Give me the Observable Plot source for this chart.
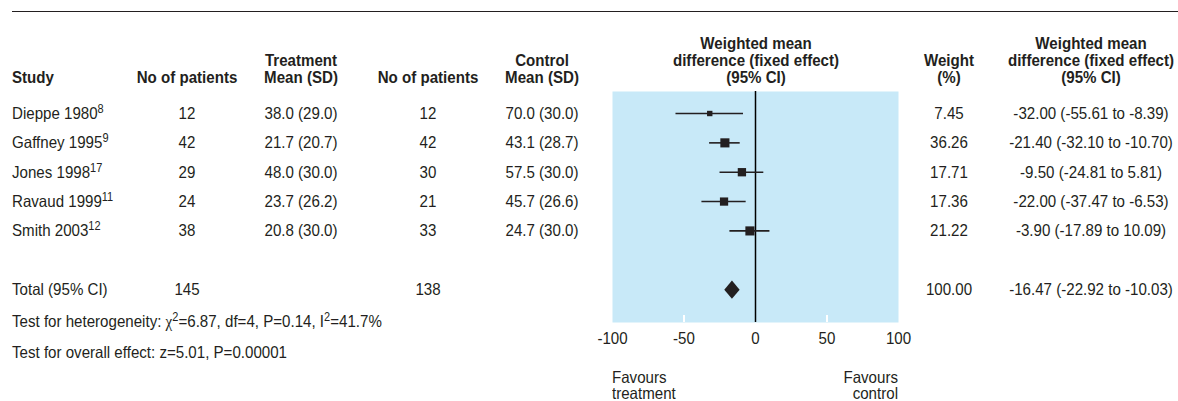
<!DOCTYPE html>
<html><head><meta charset="utf-8">
<script src="https://cdn.jsdelivr.net/npm/d3@7"></script>
<script src="https://cdn.jsdelivr.net/npm/@observablehq/plot@0.6"></script>
<style>
html,body{margin:0;padding:0;background:#fff;}
#fig{position:relative;width:1178px;height:401px;overflow:hidden;font-family:"Liberation Sans",Arial,sans-serif;font-size:16.5px;color:#231f20;}
.t{position:absolute;white-space:nowrap;line-height:17px;}
.h{font-weight:bold;text-align:center;}
.t sup{font-size:12px;line-height:0;vertical-align:0.45em;}
.chi{font-family:"Liberation Serif","DejaVu Serif",serif;}
#rule{position:absolute;left:12px;top:11px;width:1166px;height:0;border-top:1.5px solid #231f20;}
#plot{position:absolute;left:580px;top:80px;}
</style></head>
<body><div id="fig"><div id="rule"></div><div id="plot"></div></div>
<script>
// ---- data ----
const studies = ["Dieppe 1980", "Gaffney 1995", "Jones 1998", "Ravaud 1999", "Smith 2003"];
const refs = ["8", "9", "17", "11", "12"];
const nTreat = [12, 42, 29, 24, 38];
const meanTreat = [38.0, 21.7, 48.0, 23.7, 20.8];
const sdTreat = [29.0, 20.7, 30.0, 26.2, 30.0];
const nControl = [12, 42, 30, 21, 33];
const meanControl = [70.0, 43.1, 57.5, 45.7, 24.7];
const sdControl = [30.0, 28.7, 30.0, 26.6, 30.0];
const weights = [7.45, 36.26, 17.71, 17.36, 21.22];
const wmd = [-32.00, -21.40, -9.50, -22.00, -3.90];
const ciLow = [-55.61, -32.10, -24.81, -37.47, -17.89];
const ciHigh = [-8.39, -10.70, 5.81, -6.53, 10.09];
const totalLabel = "Total (95% CI)";
const totalNTreat = 145;
const totalNControl = 138;
const totalWeight = 100.00;
const totalWmd = -16.47;
const totalLow = -22.92;
const totalHigh = -10.03;
const xTicks = [-100, -50, 0, 50, 100];
const heteroChi2 = "6.87", heteroDf = "4", heteroP = "0.14", heteroI2 = "41.7";
const overallZ = "5.01", overallP = "0.00001";

// ---- table built from the arrays ----
const rows = studies.map((s, i) => ({
  study: s, ref: refs[i], row: i,
  nT: nTreat[i], mT: meanTreat[i], sT: sdTreat[i],
  nC: nControl[i], mC: meanControl[i], sC: sdControl[i],
  weight: weights[i], wmd: wmd[i], lo: ciLow[i], hi: ciHigh[i]
}));
const totalRow = {row: studies.length + 1, wmd: totalWmd, lo: totalLow, hi: totalHigh};

const ink = "#231f20";
const FONT = '"Liberation Sans",Arial,sans-serif';
const SQUEEZE = 0.915; // condensed look

// forest-plot diamond (taller than wide)
const diamond = {
  draw(ctx, size) {
    const h = Math.sqrt(size) / 2, w = h * 0.85;
    ctx.moveTo(0, -h); ctx.lineTo(w, 0); ctx.lineTo(0, h); ctx.lineTo(-w, 0); ctx.closePath();
  }
};

const chart = Plot.plot({
  width: 350, height: 272,
  marginLeft: 32, marginRight: 32, marginTop: 11, marginBottom: 30,
  style: {fontFamily: FONT, fontSize: "16.5px", color: ink, background: "transparent", overflow: "visible"},
  x: {domain: [-100, 100]},
  y: {domain: [7.12, -0.75], axis: null},
  r: {type: "sqrt", domain: [0, 21.22], range: [0, 5.14], clamp: true},
  marks: [
    Plot.frame({fill: "#c8e9f8", stroke: "none"}),
    Plot.axisX({ticks: [-50, 50], tickSize: -7, stroke: "white", strokeWidth: 2, tickFormat: () => ""}),
    Plot.axisX({ticks: xTicks, tickSize: 0, tickPadding: 10, tickFormat: d => String(d), fill: ink}),
    Plot.ruleX([0], {stroke: "#000", strokeWidth: 1.5}),
    Plot.ruleY(rows, {x1: "lo", x2: "hi", y: "row", stroke: ink, strokeWidth: 1.6}),
    Plot.dot(rows, {x: "wmd", y: "row", r: "weight", symbol: "square", fill: ink, stroke: "none"}),
    Plot.dot([totalRow], {x: "wmd", y: "row", r: 10.2, symbol: diamond, fill: ink, stroke: "none"})
  ]
});
// condense the tick labels like the rest of the text
chart.querySelectorAll("text").forEach(t => {
  const tr = t.getAttribute("transform") || "";
  t.setAttribute("transform", `${tr} scale(${SQUEEZE},1)`);
});
document.getElementById("plot").appendChild(chart);

// ---- text table aligned with the plot's y scale ----
const fig = document.getElementById("fig");
const PX = 580, PY = 80;
const yS = chart.scale("y"), xS = chart.scale("x");
const rowY = r => PY + yS.apply(r);

const col = {study: 12, nT: 187, mT: 301, nC: 428, mC: 542, forest: 756, w: 949, ci: 1091};

function put(html, x, y, align = "center", cls = "", vshift = "-50%") {
  const el = document.createElement("div");
  el.className = "t " + cls;
  el.innerHTML = html;
  el.style.left = x + "px";
  el.style.top = y + "px";
  const tx = align === "center" ? "-50%" : align === "right" ? "-100%" : "0";
  el.style.transformOrigin = (align === "center" ? "center" : align) + " center";
  el.style.transform = `translate(${tx}, ${vshift}) scaleX(${SQUEEZE})`;
  if (align === "right") el.style.textAlign = "right";
  fig.appendChild(el);
  return el;
}

// headers (last line centred at y=77)
const hb = 77 + 8.5;
put("Study", col.study, hb, "left", "h", "-100%");
put("No of patients", col.nT, hb, "center", "h", "-100%");
put("Treatment<br>Mean (SD)", col.mT, hb, "center", "h", "-100%");
put("No of patients", col.nC, hb, "center", "h", "-100%");
put("Control<br>Mean (SD)", col.mC, hb, "center", "h", "-100%");
put("Weighted mean<br>difference (fixed effect)<br>(95% CI)", col.forest, hb, "center", "h", "-100%");
put("Weight<br>(%)", col.w, hb, "center", "h", "-100%");
put("Weighted mean<br>difference (fixed effect)<br>(95% CI)", col.ci, hb, "center", "h", "-100%");

const f1 = v => v.toFixed(1), f2 = v => v.toFixed(2);
rows.forEach(d => {
  const y = rowY(d.row);
  put(`${d.study}<sup>${d.ref}</sup>`, col.study, y, "left");
  put(String(d.nT), col.nT, y);
  put(`${f1(d.mT)} (${f1(d.sT)})`, col.mT, y);
  put(String(d.nC), col.nC, y);
  put(`${f1(d.mC)} (${f1(d.sC)})`, col.mC, y);
  put(f2(d.weight), col.w, y);
  put(`${f2(d.wmd)} (${f2(d.lo)} to ${f2(d.hi)})`, col.ci, y);
});

const yt = rowY(totalRow.row);
put(totalLabel, col.study, yt, "left");
put(String(totalNTreat), col.nT, yt);
put(String(totalNControl), col.nC, yt);
put(f2(totalWeight), col.w, yt);
put(`${f2(totalWmd)} (${f2(totalLow)} to ${f2(totalHigh)})`, col.ci, yt);

put(`Test for heterogeneity: <span class="chi">χ</span><sup>2</sup>=${heteroChi2}, df=${heteroDf}, P=${heteroP}, I<sup>2</sup>=${heteroI2}%`, col.study, 321, "left");
put(`Test for overall effect: z=${overallZ}, P=${overallP}`, col.study, 352, "left");

// favours labels under the axis
const fl = put("Favours<br>treatment", PX + xS.apply(-100), 369, "left", "", "0");
fl.style.lineHeight = "16px";
const fr = put("Favours<br>control", PX + xS.apply(100), 369, "right", "", "0");
fr.style.lineHeight = "16px";
</script>
</body></html>
